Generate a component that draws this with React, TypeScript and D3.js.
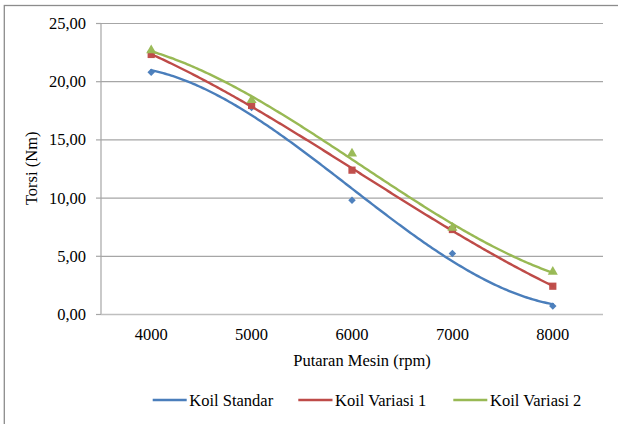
import React from "react";
import * as d3 from "d3";

const categories = [4000, 5000, 6000, 7000, 8000];
const koilStandar = [20.82, 17.78, 9.82, 5.24, 0.72];
const koilVariasi1 = [22.34, 17.96, 12.4, 7.3, 2.43];
const koilVariasi2 = [22.7, 18.41, 13.83, 7.45, 3.67];
const yTicks = [0, 5, 10, 15, 20, 25];

const W = 618;
const H = 424;
const font = '"Liberation Serif", "Times New Roman", Times, Tinos, "DejaVu Serif", serif';

// least-squares cubic trendline computed from a series
function polyFit(xs: number[], ys: number[], order: number) {
  const n = order + 1;
  const A: number[][] = Array.from({ length: n }, () => new Array(n + 1).fill(0));
  xs.forEach((x, k) => {
    for (let i = 0; i < n; i++) {
      for (let j = 0; j < n; j++) A[i][j] += Math.pow(x, i + j);
      A[i][n] += Math.pow(x, i) * ys[k];
    }
  });
  for (let c = 0; c < n; c++) {
    let p = c;
    for (let r = c + 1; r < n; r++) if (Math.abs(A[r][c]) > Math.abs(A[p][c])) p = r;
    [A[c], A[p]] = [A[p], A[c]];
    for (let r = 0; r < n; r++) {
      if (r === c) continue;
      const f = A[r][c] / A[c][c];
      for (let k = c; k <= n; k++) A[r][k] -= f * A[c][k];
    }
  }
  const coef = A.map((row, i) => row[n] / A[i][i]);
  return (x: number) => coef.reduce((s, c, i) => s + c * Math.pow(x, i), 0);
}

const series = [
  { name: "Koil Standar", values: koilStandar, line: "#4a7ebb", marker: "#4f81bd", shape: d3.symbolSquare, size: 28, rot: 45 },
  { name: "Koil Variasi 1", values: koilVariasi1, line: "#be4b48", marker: "#c0504d", shape: d3.symbolSquare, size: 52, rot: 0 },
  { name: "Koil Variasi 2", values: koilVariasi2, line: "#98b954", marker: "#9bbb59", shape: d3.symbolTriangle, size: 44, rot: 0 },
];

const txt: React.CSSProperties = { fontFamily: font, fontSize: "16.5px" };

export default function App() {
  const left = 101, right = 603;
  const x = d3.scalePoint<number>().domain(categories).range([left, right]).padding(0.5);
  const y = d3.scaleLinear().domain([0, 25]).range([314.5, 23.5]);
  const xc = d3
    .scaleLinear()
    .domain([categories[0], categories[categories.length - 1]])
    .range([x(categories[0])!, x(categories[categories.length - 1])!]);
  const ts = categories.map((c) => (c - 6000) / 1000);
  const samples = d3.range(0, 201).map((i) => categories[0] + (i / 200) * (categories[categories.length - 1] - categories[0]));

  const legendItems = [
    { x0: 152.7, x1: 186.7, tx: 189.3 },
    { x0: 298.3, x1: 332.5, tx: 335 },
    { x0: 453.3, x1: 487.3, tx: 490 },
  ];

  return (
    <div style={{ position: "absolute", left: 0, top: 0, fontFamily: font }}>
      <svg width={W} height={H} style={{ display: "block", background: "#fff", fontFamily: font }}>
        <rect x={4.3} y={5.5} width={W + 20} height={H + 20} fill="#fff" stroke="#8c8c8c" strokeWidth={1.3} />
        {yTicks.map((t) => (
          <g key={t}>
            {t > 0 && <line x1={left} x2={right} y1={y(t)} y2={y(t)} stroke="#a6a6a6" strokeWidth={1.2} />}
            <line x1={96} x2={left} y1={y(t)} y2={y(t)} stroke="#a6a6a6" strokeWidth={1.2} />
            <text x={86} y={y(t) + 5.5} textAnchor="end" style={txt} fill="#000">
              {d3.format(".2f")(t).replace(".", ",")}
            </text>
          </g>
        ))}
        <line x1={left} x2={left} y1={y(25)} y2={y(0)} stroke="#a6a6a6" strokeWidth={1.2} />
        <line x1={left} x2={right} y1={y(0)} y2={y(0)} stroke="#bfbfbf" strokeWidth={1.4} />
        {categories.map((c) => (
          <text key={c} x={x(c)} y={339.5} textAnchor="middle" style={txt} fill="#000">
            {c}
          </text>
        ))}
        <text x={362} y={366} textAnchor="middle" style={txt} fill="#000">
          Putaran Mesin (rpm)
        </text>
        <text transform={`translate(37,168.3) rotate(-90)`} textAnchor="middle" style={txt} fill="#000">
          Torsi (Nm)
        </text>
        {series.map((s) => {
          const f = polyFit(ts, s.values, 3);
          const path = d3
            .line<number>()
            .x((c) => xc(c))
            .y((c) => y(f((c - 6000) / 1000)))(samples);
          const sym = d3.symbol().type(s.shape).size(s.size)();
          return (
            <g key={s.name}>
              {s.values.map((v, i) => (
                <path
                  key={i}
                  d={sym!}
                  transform={`translate(${x(categories[i])},${y(v)}) rotate(${s.rot})`}
                  fill={s.marker}
                />
              ))}
              <path d={path!} fill="none" stroke={s.line} strokeWidth={2.4} strokeLinecap="round" />
            </g>
          );
        })}
        {series.map((s, i) => (
          <g key={s.name}>
            <line x1={legendItems[i].x0} x2={legendItems[i].x1} y1={400} y2={400} stroke={s.line} strokeWidth={2.4} />
            <text x={legendItems[i].tx} y={406} style={txt} fill="#000">
              {s.name}
            </text>
          </g>
        ))}
      </svg>
    </div>
  );
}
